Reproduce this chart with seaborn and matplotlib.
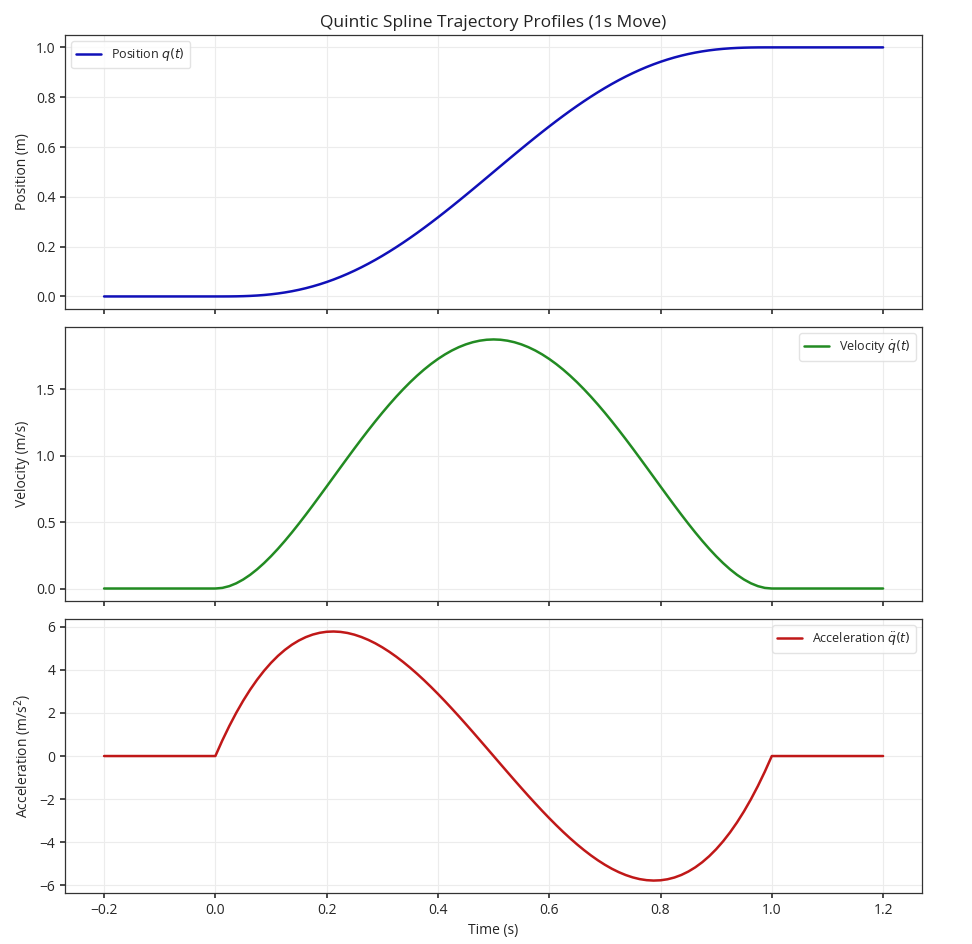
import matplotlib
matplotlib.use("Agg")
import matplotlib.pyplot as plt
import seaborn as sns
import pandas as pd

# Time samples (s)
time = [-0.2,
        0.0, 0.0125, 0.025, 0.0375, 0.05, 0.0625, 0.075, 0.0875, 0.1, 0.1125,
        0.125, 0.1375, 0.15, 0.1625, 0.175, 0.1875, 0.2, 0.2125, 0.225, 0.2375,
        0.25, 0.2625, 0.275, 0.2875, 0.3, 0.3125, 0.325, 0.3375, 0.35, 0.3625,
        0.375, 0.3875, 0.4, 0.4125, 0.425, 0.4375, 0.45, 0.4625, 0.475, 0.4875,
        0.5, 0.5125, 0.525, 0.5375, 0.55, 0.5625, 0.575, 0.5875, 0.6, 0.6125,
        0.625, 0.6375, 0.65, 0.6625, 0.675, 0.6875, 0.7, 0.7125, 0.725, 0.7375,
        0.75, 0.7625, 0.775, 0.7875, 0.8, 0.8125, 0.825, 0.8375, 0.85, 0.8625,
        0.875, 0.8875, 0.9, 0.9125, 0.925, 0.9375, 0.95, 0.9625, 0.975, 0.9875,
        1.0, 1.2]

position = [0.0,
            0.0, 0.00002, 0.00015, 0.00050, 0.00116, 0.00222, 0.00376, 0.00585, 0.00856, 0.01194,
            0.01605, 0.02093, 0.02661, 0.03313, 0.04051, 0.04877, 0.05792, 0.06797, 0.07892, 0.09077,
            0.10352, 0.11714, 0.13162, 0.14694, 0.16308, 0.18001, 0.19769, 0.21609, 0.23517, 0.25489,
            0.27521, 0.29607, 0.31744, 0.33926, 0.36147, 0.38403, 0.40687, 0.42995, 0.45320, 0.47657,
            0.5, 0.52343, 0.54680, 0.57005, 0.59313, 0.61597, 0.63853, 0.66074, 0.68256, 0.70393,
            0.72479, 0.74511, 0.76483, 0.78391, 0.80231, 0.81999, 0.83692, 0.85306, 0.86838, 0.88286,
            0.89648, 0.90923, 0.92108, 0.93203, 0.94208, 0.95123, 0.95949, 0.96687, 0.97339, 0.97907,
            0.98395, 0.98806, 0.99144, 0.99415, 0.99624, 0.99778, 0.99884, 0.99950, 0.99985, 0.99998,
            1.0, 1.0]

velocity = [0.0,
            0.0, 0.0046, 0.0178, 0.0391, 0.0677, 0.1030, 0.1444, 0.1913, 0.2430, 0.2991,
            0.3589, 0.4219, 0.4877, 0.5556, 0.6253, 0.6963, 0.7680, 0.8401, 0.9122, 0.9838,
            1.0547, 1.1244, 1.1925, 1.2588, 1.3230, 1.3847, 1.4438, 1.4998, 1.5527, 1.6021,
            1.6480, 1.6900, 1.7280, 1.7619, 1.7916, 1.8169, 1.8377, 1.8540, 1.8656, 1.8727,
            1.875, 1.8727, 1.8656, 1.8540, 1.8377, 1.8169, 1.7916, 1.7619, 1.7280, 1.6900,
            1.6480, 1.6021, 1.5527, 1.4998, 1.4438, 1.3847, 1.3230, 1.2588, 1.1925, 1.1244,
            1.0547, 0.9838, 0.9122, 0.8401, 0.7680, 0.6963, 0.6253, 0.5556, 0.4877, 0.4219,
            0.3589, 0.2991, 0.2430, 0.1913, 0.1444, 0.1030, 0.0677, 0.0391, 0.0178, 0.0046,
            0.0, 0.0]

acceleration = [0.0,
                0.0, 0.722, 1.389, 2.003, 2.565, 3.076, 3.538, 3.952, 4.320, 4.643,
                4.922, 5.159, 5.355, 5.512, 5.631, 5.713, 5.760, 5.773, 5.754, 5.705,
                5.625, 5.517, 5.383, 5.224, 5.040, 4.834, 4.607, 4.360, 4.095, 3.813,
                3.516, 3.204, 2.880, 2.545, 2.199, 1.846, 1.485, 1.119, 0.748, 0.375,
                0.0, -0.375, -0.748, -1.119, -1.485, -1.846, -2.199, -2.545, -2.880, -3.204,
                -3.516, -3.813, -4.095, -4.360, -4.607, -4.834, -5.040, -5.224, -5.383, -5.517,
                -5.625, -5.705, -5.754, -5.773, -5.760, -5.713, -5.631, -5.512, -5.355, -5.159,
                -4.922, -4.643, -4.320, -3.952, -3.538, -3.076, -2.565, -2.003, -1.389, -0.722,
                0.0, 0.0]

df = pd.DataFrame({"time": time, "position": position,
                   "velocity": velocity, "acceleration": acceleration})

sns.set_theme(style="ticks")
plt.rcParams['font.family'] = ['Open Sans', 'DejaVu Sans']
plt.rcParams['mathtext.fontset'] = 'dejavusans'

fig, axes = plt.subplots(3, 1, figsize=(9.72, 9.44), dpi=100, sharex=True)
fig.subplots_adjust(left=0.067, right=0.9486, top=0.963, bottom=0.054, hspace=0.066)

specs = [
    ("position", "#1010b8", r"Position $q(t)$", "Position (m)", "upper left"),
    ("velocity", "#228b22", r"Velocity $\dot{q}(t)$", "Velocity (m/s)", "upper right"),
    ("acceleration", "#c01818", r"Acceleration $\ddot{q}(t)$", r"Acceleration (m/s$^2$)", "upper right"),
]

for ax, (col, color, lab, ylab, loc) in zip(axes, specs):
    sns.lineplot(data=df, x="time", y=col, ax=ax, color=color, linewidth=1.8, label=lab)
    ax.set_ylabel(ylab, fontsize=10)
    ax.set_xlabel("")
    ax.grid(True, color="#ececec", linewidth=0.8)
    ax.tick_params(labelsize=10, length=3.5, color="#333333")
    for s in ax.spines.values():
        s.set_color("#333333")
        s.set_linewidth(0.9)
    leg = ax.legend(loc=loc, fontsize=9, frameon=True, fancybox=True, framealpha=0.8)
    leg.get_frame().set_edgecolor("#dddddd")

axes[0].set_yticks([0.0, 0.2, 0.4, 0.6, 0.8, 1.0])
axes[1].set_yticks([0.0, 0.5, 1.0, 1.5])
axes[2].set_yticks([-6, -4, -2, 0, 2, 4, 6])
axes[2].set_xticks([-0.2, 0.0, 0.2, 0.4, 0.6, 0.8, 1.0, 1.2])
axes[2].set_xlabel("Time (s)", fontsize=10)
axes[0].set_title("Quintic Spline Trajectory Profiles (1s Move)", fontsize=12.5, color="#222222")

fig.savefig("out.png", dpi=100)
